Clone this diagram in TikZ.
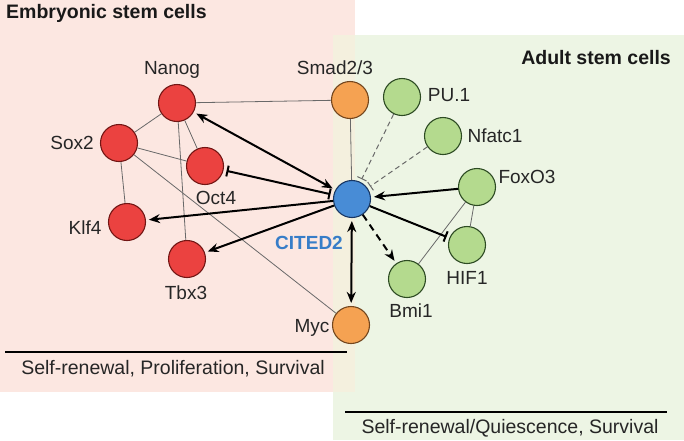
\documentclass[tikz,border=0pt]{standalone}
\usepackage{fontspec}
\setmainfont{Liberation Sans}
\usetikzlibrary{arrows.meta}
\definecolor{bgpink}{RGB}{252,231,225}
\definecolor{bggreen}{RGB}{237,245,228}
\definecolor{bgmix}{RGB}{244,240,222}
\definecolor{redfill}{RGB}{235,66,64}
\definecolor{redline}{RGB}{115,22,20}
\definecolor{orfill}{RGB}{245,162,82}
\definecolor{orline}{RGB}{115,70,30}
\definecolor{grfill}{RGB}{180,218,142}
\definecolor{grline}{RGB}{45,75,35}
\definecolor{blfill}{RGB}{72,140,214}
\definecolor{blline}{RGB}{25,55,100}
\definecolor{citedtext}{RGB}{55,125,200}
\definecolor{thingray}{RGB}{105,105,105}
\tikzset{
  gene/.style={circle,draw,line width=1.1pt,minimum size=37pt,inner sep=0pt},
  redgene/.style={gene,fill=redfill,draw=redline},
  orgene/.style={gene,fill=orfill,draw=orline},
  grgene/.style={gene,fill=grfill,draw=grline},
  blgene/.style={gene,fill=blfill,draw=blline},
  lbl/.style={inner sep=0pt,font=\fontsize{19}{22}\selectfont,text=black!85},
  ttl/.style={inner sep=0pt,font=\fontsize{19.5}{22}\selectfont\bfseries,text=black!90},
  thin/.style={draw=thingray,line width=0.8pt},
  thick/.style={draw=black,line width=2pt},
  arr/.style={thick,-{Stealth[length=11pt,width=9pt]},shorten >=3pt},
  darr/.style={thick,{Stealth[length=11pt,width=9pt]}-{Stealth[length=11pt,width=9pt]},shorten >=3pt,shorten <=3pt},
  inh/.style={thick,-{Bar[width=11pt,line width=2pt]},shorten >=3pt},
  dinh/.style={thick,{Bar[width=11pt,line width=2pt]}-{Bar[width=11pt,line width=2pt]},shorten >=3pt,shorten <=3pt},
  dashinh/.style={draw=thingray,line width=1pt,dash pattern=on 5pt off 3.5pt,-{Bar[width=10pt,line width=1pt]},shorten >=3pt},
  dasharr/.style={thick,dash pattern=on 7pt off 5pt,-{Stealth[length=11pt,width=9pt]},shorten >=3pt},
}
\begin{document}
\begin{tikzpicture}[x=1pt,y=-1pt]
\useasboundingbox (0,0) rectangle (684,440);
% backgrounds
\fill[bgpink] (0,0) rectangle (355,392);
\fill[bggreen] (333,35) rectangle (684,440);
\fill[bgmix] (333,35) rectangle (355,392);

% titles
\node[ttl,anchor=west] (tE) at (6,13) {Embryonic stem cells};
\node[ttl,anchor=east] (tA) at (671,58) {Adult stem cells};

% nodes
\node[redgene] (nanog) at (177,103) {};
\node[redgene] (sox2) at (119,143) {};
\node[redgene] (oct4) at (205,166) {};
\node[redgene] (klf4) at (127,222) {};
\node[redgene] (tbx3) at (187,259) {};
\node[orgene] (smad) at (350,100) {};
\node[orgene] (myc) at (351,325) {};
\node[blgene] (cited) at (352,199) {};
\node[grgene] (pu1) at (402,97) {};
\node[grgene] (nfatc1) at (443,136) {};
\node[grgene] (foxo3) at (477,187) {};
\node[grgene] (hif1) at (467,245) {};
\node[grgene] (bmi1) at (407,279) {};

% labels
\node[lbl] (lnanog) at (172,70) {Nanog};
\node[lbl] (lsox2) at (72,143) {Sox2};
\node[lbl] (loct4) at (216,198) {Oct4};
\node[lbl] (lklf4) at (85,228) {Klf4};
\node[lbl] (ltbx3) at (186,293) {Tbx3};
\node[lbl] (lsmad) at (335,68) {Smad2/3};
\node[lbl] (lmyc) at (312,328) {Myc};
\node[lbl] (lpu1) at (449,95) {PU.1};
\node[lbl] (lnfatc1) at (495,136) {Nfatc1};
\node[lbl] (lfoxo3) at (527,177) {FoxO3};
\node[lbl] (lhif1) at (467,278) {HIF1};
\node[lbl] (lbmi1) at (411,311) {Bmi1};
\node[lbl,font=\fontsize{19}{22}\selectfont\bfseries,text=citedtext] (lcited) at (309,243) {CITED2};

% thin interactions
\draw[thin] (nanog) -- (smad);
\draw[thin] (nanog) -- (sox2);
\draw[thin] (nanog) -- (oct4);
\draw[thin] (nanog) -- (tbx3);
\draw[thin] (sox2) -- (oct4);
\draw[thin] (sox2) -- (klf4);
\draw[thin] (sox2) -- (myc);
\draw[thin] (smad) -- (cited);
\draw[thin] (foxo3) -- (hif1);
\draw[thin] (foxo3) -- (bmi1);

% dashed inhibitions
\draw[dashinh] (pu1) -- (cited);
\draw[dashinh] (nfatc1) -- (cited);

% thick interactions
\draw[darr] (cited) -- (nanog);
\draw[dinh] (cited) -- (oct4);
\draw[arr] (cited) -- (klf4);
\draw[arr] (cited) -- (tbx3);
\draw[darr] (cited) -- (myc);
\draw[arr] (foxo3) -- (cited);
\draw[inh] (cited) -- (hif1);
\draw[dasharr] (cited) -- (bmi1);

% bottom captions
\coordinate (l1a) at (5,352);
\coordinate (l1b) at (347,352);
\coordinate (l2a) at (345,412);
\coordinate (l2b) at (667,412);
\draw[line width=1.6pt] (l1a) -- (l1b);
\draw[line width=1.6pt] (l2a) -- (l2b);
\node[lbl,font=\fontsize{19.5}{22}\selectfont] (cap1) at (173,369) {Self-renewal, Proliferation, Survival};
\node[lbl,font=\fontsize{19.5}{22}\selectfont] (cap2) at (510,428) {Self-renewal/Quiescence, Survival};
\end{tikzpicture}
\end{document}
